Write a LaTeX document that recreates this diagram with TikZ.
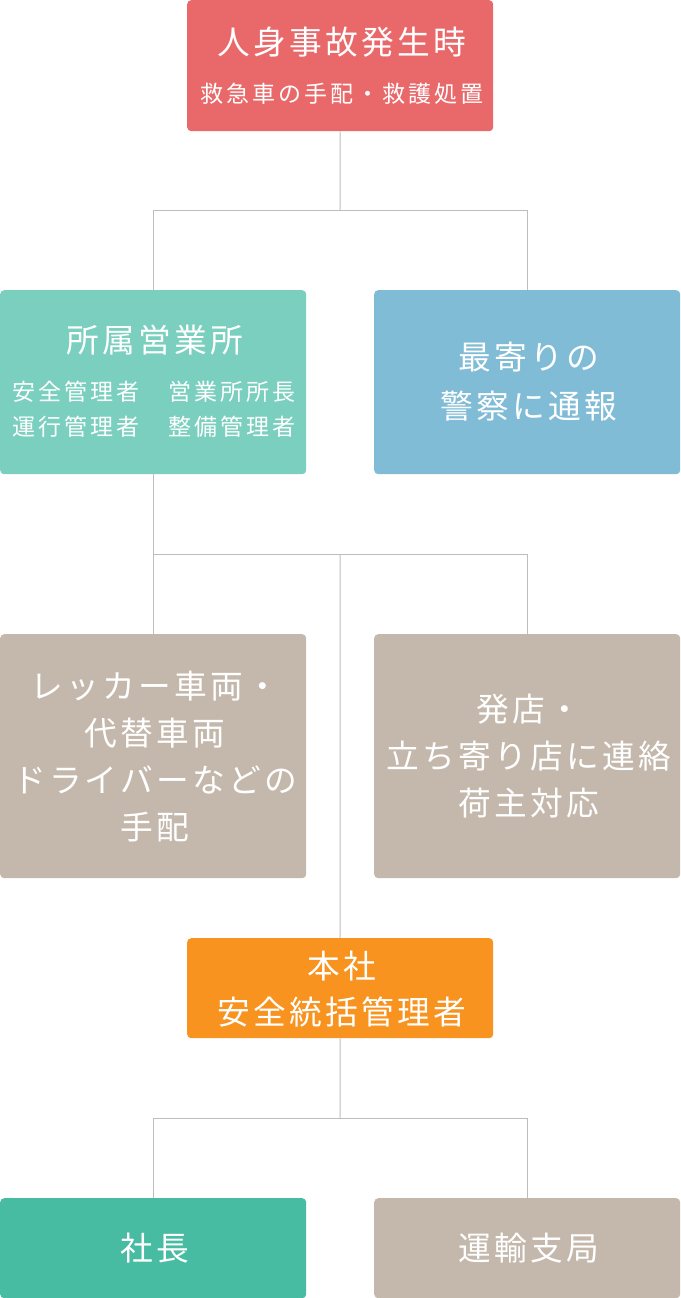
\documentclass[tikz,border=0pt]{standalone}
\usepackage{fontspec}
\newfontfamily\jpbig{Noto Sans CJK JP}[LetterSpace=10]
\newfontfamily\jpsmall{Noto Sans CJK JP}[LetterSpace=13]
\definecolor{cred}{HTML}{E9696B}
\definecolor{cteal}{HTML}{7ACFBF}
\definecolor{cblue}{HTML}{80BCD6}
\definecolor{cbeige}{HTML}{C4B8AC}
\definecolor{corange}{HTML}{F7931E}
\definecolor{cgreen}{HTML}{48BBA3}
\definecolor{cline}{HTML}{BDBDBD}
\tikzset{
  box/.style={anchor=north west, rounded corners=4pt, inner sep=0pt, minimum width=306pt},
  big/.style={text=white, inner sep=0pt, text height=28.6pt, text depth=4.1pt, font=\jpbig\fontsize{32.7}{36}\selectfont},
  small/.style={text=white, inner sep=0pt, text height=20.2pt, text depth=2.8pt, font=\jpsmall\fontsize{23}{26}\selectfont},
  conn/.style={draw=cline, line width=1pt},
}
\begin{document}
\begin{tikzpicture}[x=1pt,y=-1pt]
\useasboundingbox (0,0) rectangle (680,1298);
% boxes
\node[box, fill=cred, minimum height=131pt] (top) at (187,0) {};
\node[box, fill=cteal, minimum height=184pt] (office) at (0,290) {};
\node[box, fill=cblue, minimum height=184pt] (police) at (374,290) {};
\node[box, fill=cbeige, minimum height=244pt] (tow) at (0,634) {};
\node[box, fill=cbeige, minimum height=244pt] (store) at (374,634) {};
\node[box, fill=corange, minimum height=100pt] (hq) at (187,938) {};
\node[box, fill=cgreen, minimum height=100pt] (pres) at (0,1198) {};
\node[box, fill=cbeige, minimum height=100pt] (bureau) at (374,1198) {};
% texts
\node[big] (t1) at (342,42) {人身事故発生時};
\node[small] (t2) at (342,94) {救急車の手配・救護処置};
\node[big] (o1) at (155,340) {所属営業所};
\node[small] (o2) at (154,392) {安全管理者　営業所所長};
\node[small] (o3) at (154,427) {運行管理者　整備管理者};
\node[big] (p1) at (529,357) {最寄りの};
\node[big] (p2) at (529,406) {警察に通報};
\node[big] (w1) at (155,686) {レッカー車両・};
\node[big] (w2) at (155,733) {代替車両};
\node[big] (w3) at (155,780) {ドライバーなどの};
\node[big] (w4) at (155,827) {手配};
\node[big] (s1) at (529,709) {発店・};
\node[big] (s2) at (529,756) {立ち寄り店に連絡};
\node[big] (s3) at (529,803) {荷主対応};
\node[big] (h1) at (342,966) {本社};
\node[big] (h2) at (342,1012) {安全統括管理者};
\node[big] (r1) at (155,1248) {社長};
\node[big] (b1) at (529,1248) {運輸支局};
% connectors
\coordinate (j1) at (340,210);
\coordinate (j2) at (340,554);
\coordinate (j3) at (340,1118);
\draw[conn] (top.south) -- (j1);
\draw[conn] (j1) -| (office.north);
\draw[conn] (j1) -| (police.north);
\draw[conn] (office.south) -- (tow.north);
\draw[conn] (tow.north |- j2) -| (store.north);
\draw[conn] (j2) -- (hq.north);
\draw[conn] (hq.south) -- (j3);
\draw[conn] (j3) -| (pres.north);
\draw[conn] (j3) -| (bureau.north);
\end{tikzpicture}
\end{document}
